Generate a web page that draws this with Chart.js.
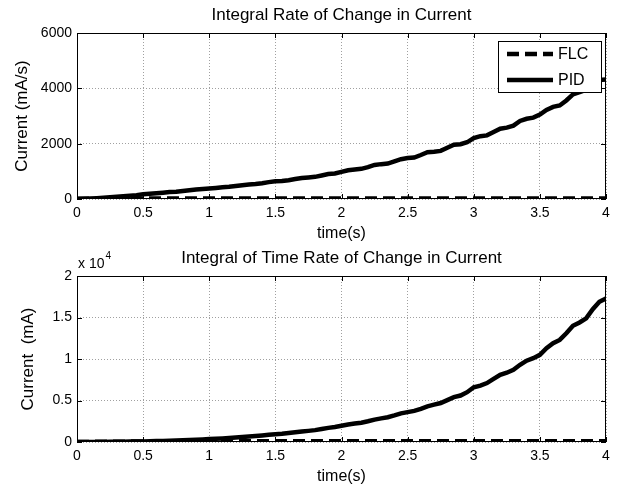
<!DOCTYPE html>
<html>
<head>
<meta charset="utf-8">
<script src="https://cdn.jsdelivr.net/npm/chart.js@4.4.0/dist/chart.umd.min.js"></script>
<style>
  body { margin: 0; background: #fff; }
  #wrap { position: relative; width: 617px; height: 486px; background: #fff; }
  canvas { position: absolute; left: 0; }
</style>
</head>
<body>
<div id="wrap">
  <canvas id="topChart" width="617" height="243" style="top:0"></canvas>
  <canvas id="bottomChart" width="617" height="243" style="top:243px"></canvas>
</div>
<script>
// time samples (s)
var time = [0, 0.05, 0.1, 0.15, 0.2, 0.25, 0.3, 0.35, 0.4, 0.45,
  0.5, 0.55, 0.6, 0.65, 0.7, 0.75, 0.8, 0.85, 0.9, 0.95,
  1, 1.05, 1.1, 1.15, 1.2, 1.25, 1.3, 1.35, 1.4, 1.45,
  1.5, 1.55, 1.6, 1.65, 1.7, 1.75, 1.8, 1.85, 1.9, 1.95,
  2, 2.05, 2.1, 2.15, 2.2, 2.25, 2.3, 2.35, 2.4, 2.45,
  2.5, 2.55, 2.6, 2.65, 2.7, 2.75, 2.8, 2.85, 2.9, 2.95,
  3, 3.05, 3.1, 3.15, 3.2, 3.25, 3.3, 3.35, 3.4, 3.45,
  3.5, 3.55, 3.6, 3.65, 3.7, 3.75, 3.8, 3.85, 3.9, 3.95, 4];

// PID, integral rate of change (mA/s)
var pidRate = [0, 5, 15, 30, 45, 60, 80, 100, 120, 140,
  170, 190, 210, 230, 250, 265, 290, 320, 345, 360,
  380, 400, 425, 440, 470, 500, 520, 540, 570, 610,
  640, 650, 680, 720, 760, 780, 800, 850, 900, 920,
  980, 1040, 1070, 1090, 1150, 1230, 1260, 1280, 1360, 1440,
  1480, 1500, 1590, 1690, 1710, 1740, 1850, 1960, 1980, 2050,
  2200, 2270, 2300, 2420, 2540, 2580, 2650, 2820, 2900, 2940,
  3050, 3220, 3330, 3380, 3560, 3780, 3860, 3950, 4200, 4300, 4320];

// PID, integral of time rate of change (mA)
var pidIntegral = [0, 0, 5, 10, 15, 20, 30, 40, 50, 60,
  75, 90, 110, 130, 150, 180, 210, 240, 270, 310,
  350, 390, 430, 480, 530, 590, 650, 710, 780, 860,
  940, 1000, 1080, 1170, 1260, 1340, 1430, 1560, 1700, 1800,
  1950, 2100, 2220, 2330, 2500, 2700, 2850, 2980, 3200, 3450,
  3600, 3750, 4000, 4300, 4500, 4700, 5050, 5400, 5600, 6000,
  6600, 6800, 7100, 7600, 8100, 8350, 8700, 9300, 9800, 10100,
  10500, 11300, 11900, 12300, 13100, 14000, 14400, 14900, 16000, 16900, 17300];

// FLC stays almost flat
var flcTime = [0, 0.5, 1, 1.5, 2, 2.5, 3, 3.5, 4];
var flcRate = [10, 20, 20, 20, 20, 20, 20, 20, 20];
var flcIntegral = [0, 60, 80, 90, 100, 100, 100, 100, 100];

var xTicks = [0, 0.5, 1, 1.5, 2, 2.5, 3, 3.5, 4];
var topYTicks = [0, 2000, 4000, 6000];
var bottomYTicks = [0, 5000, 10000, 15000, 20000];

var FONT = "'Liberation Sans', Arial, sans-serif";

function pairs(xs, ys) {
  var out = [];
  for (var i = 0; i < xs.length; i++) out.push({x: xs[i], y: ys[i]});
  return out;
}

// matlab style box, inner ticks, title, legend and exponent label
var matlabAxes = {
  id: 'matlabAxes',
  afterDatasetsDraw: function(chart, args, opts) {
    var ctx = chart.ctx, a = chart.chartArea;
    var xs = chart.scales.x, ys = chart.scales.y;
    ctx.save();
    ctx.strokeStyle = '#000';
    ctx.lineWidth = 1;
    ctx.setLineDash([]);
    ctx.strokeRect(Math.round(a.left) + 0.5, Math.round(a.top) + 0.5,
      Math.round(a.right - a.left) - 1, Math.round(a.bottom - a.top) - 1);
    ctx.beginPath();
    xs.ticks.forEach(function(t, i) {
      var px = Math.round(xs.getPixelForTick(i)) + 0.5;
      ctx.moveTo(px, a.bottom); ctx.lineTo(px, a.bottom - 5);
      ctx.moveTo(px, a.top); ctx.lineTo(px, a.top + 5);
    });
    ys.ticks.forEach(function(t, i) {
      var py = Math.round(ys.getPixelForTick(i)) + 0.5;
      ctx.moveTo(a.left, py); ctx.lineTo(a.left + 5, py);
      ctx.moveTo(a.right, py); ctx.lineTo(a.right - 5, py);
    });
    ctx.stroke();

    ctx.fillStyle = '#000';
    ctx.textBaseline = 'middle';
    ctx.textAlign = 'center';
    ctx.font = '17px ' + FONT;
    ctx.fillText(opts.title, (a.left + a.right) / 2, a.top - 18);

    if (opts.exponent) {
      ctx.textAlign = 'left';
      ctx.font = '14px ' + FONT;
      ctx.fillText('x 10', a.left + 1, a.top - 12);
      var w = ctx.measureText('x 10').width;
      ctx.font = '10px ' + FONT;
      ctx.fillText(opts.exponent, a.left + 2 + w, a.top - 20);
    }

    if (opts.legend) {
      var bw = 103, bh = 51;
      var bx = Math.round(a.right) - 5 - bw, by = Math.round(a.top) + 8;
      ctx.fillStyle = '#fff';
      ctx.fillRect(bx, by, bw, bh);
      ctx.strokeRect(bx + 0.5, by + 0.5, bw, bh);
      chart.data.datasets.forEach(function(ds, i) {
        var ry = by + 13 + i * 26;
        ctx.beginPath();
        ctx.lineWidth = ds.borderWidth;
        ctx.setLineDash(ds.borderDash || []);
        ctx.moveTo(bx + 9, ry); ctx.lineTo(bx + 55, ry);
        ctx.stroke();
        ctx.setLineDash([]);
        ctx.lineWidth = 1;
        ctx.fillStyle = '#000';
        ctx.font = '16px ' + FONT;
        ctx.textAlign = 'left';
        ctx.textBaseline = 'middle';
        ctx.fillText(ds.label, bx + 60, ry + 1);
      });
    }
    ctx.restore();
  }
};

function makeChart(id, yLabel, yLabelPad, yMax, yTicks, yFmt, flcData, pidData, extra) {
  return new Chart(document.getElementById(id), {
    type: 'line',
    data: {
      datasets: [
        { label: 'FLC', data: flcData, borderColor: '#000', borderWidth: 4.5,
          borderDash: [12, 6], pointRadius: 0, tension: 0, fill: false },
        { label: 'PID', data: pidData, borderColor: '#000', borderWidth: 4.5,
          pointRadius: 0, tension: 0, fill: false }
      ]
    },
    options: {
      responsive: false,
      animation: false,
      layout: { padding: { left: 0, right: 11, top: 33, bottom: 0 } },
      plugins: {
        legend: { display: false },
        tooltip: { enabled: false },
        title: { display: false },
        matlabAxes: extra
      },
      scales: {
        x: {
          type: 'linear', min: 0, max: 4,
          afterBuildTicks: function(s) { s.ticks = xTicks.map(function(v) { return {value: v}; }); },
          afterFit: function(s) { s.height = 44; },
          ticks: { color: '#000', padding: 6, maxRotation: 0, autoSkip: false,
            font: { family: FONT, size: 14 },
            callback: function(v) { return String(v); } },
          grid: { color: '#a0a0a0', lineWidth: 1, drawTicks: false },
          border: { display: false, dash: [1, 2] },
          title: { display: true, text: 'time(s)', color: '#000',
            font: { family: FONT, size: 16 }, padding: { top: 0, bottom: 0 } }
        },
        y: {
          min: 0, max: yMax,
          afterBuildTicks: function(s) { s.ticks = yTicks.map(function(v) { return {value: v}; }); },
          afterFit: function(s) { s.width = 77; },
          ticks: { color: '#000', padding: 5, font: { family: FONT, size: 14 },
            callback: yFmt },
          grid: { color: '#a0a0a0', lineWidth: 1, drawTicks: false },
          border: { display: false, dash: [1, 2] },
          title: { display: true, text: yLabel, color: '#000',
            font: { family: FONT, size: 17 }, padding: { top: yLabelPad, bottom: 0 } }
        }
      }
    },
    plugins: [matlabAxes]
  });
}

makeChart('topChart', 'Current (mA/s)', 12, 6000, topYTicks,
  function(v) { return String(v); },
  pairs(flcTime, flcRate), pairs(time, pidRate),
  { title: 'Integral Rate of Change in Current', legend: true });

makeChart('bottomChart', 'Current  (mA)', 18, 20000, bottomYTicks,
  function(v) { return String(v / 10000); },
  pairs(flcTime, flcIntegral), pairs(time, pidIntegral),
  { title: 'Integral of Time Rate of Change in Current', exponent: '4' });
</script>
</body>
</html>
